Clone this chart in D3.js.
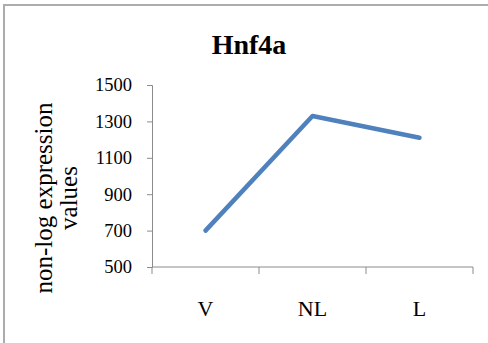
<!DOCTYPE html>
<html>
<head>
<meta charset="utf-8">
<script src="https://cdn.jsdelivr.net/npm/d3@7"></script>
<style>
  html, body { margin: 0; padding: 0; background: #fff; }
  svg { display: block; }
</style>
</head>
<body>
<svg id="chart" width="488" height="343"></svg>
<script>
// Hnf4a expression by group
const categories = ["V", "NL", "L"];
const values = [700, 1330, 1210];
const yTicks = [500, 700, 900, 1100, 1300, 1500];
const chartTitle = "Hnf4a";
const yTitleLines = ["non-log expression", "values"];

const svg = d3.select("#chart");
const W = 488, H = 343;
const plot = { left: 152, right: 473, top: 85, bottom: 267 };
const serif = "'Liberation Serif', 'Times New Roman', serif";

// chart frame (top and left edges visible)
svg.append("path")
  .attr("d", `M4,${H} V5 H${W}`)
  .attr("fill", "none")
  .attr("stroke", "#acacac")
  .attr("stroke-width", 2);

const x = d3.scaleBand().domain(categories).range([plot.left, plot.right]).padding(0);
const y = d3.scaleLinear().domain([500, 1500]).range([plot.bottom, plot.top]);

const axisColor = "#8c8c8c";

// y axis
const yAxis = svg.append("g")
  .attr("transform", `translate(${plot.left},0)`)
  .call(d3.axisLeft(y).tickValues(yTicks).tickSize(5).tickPadding(15).tickFormat(d3.format("d")));
yAxis.select(".domain").attr("stroke", axisColor);
yAxis.selectAll(".tick line").attr("stroke", axisColor);
yAxis.selectAll(".tick text")
  .attr("fill", "#000")
  .style("font-family", serif)
  .style("font-size", "18.5px");

// x axis: ticks sit on category boundaries
const xAxisG = svg.append("g")
  .attr("transform", `translate(0,${plot.bottom})`);
xAxisG.append("line")
  .attr("x1", plot.left).attr("x2", plot.right)
  .attr("stroke", axisColor);
const bounds = categories.map(c => x(c)).concat([x(categories[categories.length - 1]) + x.bandwidth()]);
xAxisG.selectAll(".xtick").data(bounds).join("line")
  .attr("class", "xtick")
  .attr("x1", d => d).attr("x2", d => d)
  .attr("y1", 0).attr("y2", 7)
  .attr("stroke", axisColor);
xAxisG.selectAll(".xlabel").data(categories).join("text")
  .attr("class", "xlabel")
  .attr("x", d => x(d) + x.bandwidth() / 2)
  .attr("y", 49)
  .attr("text-anchor", "middle")
  .style("font-family", serif)
  .style("font-size", "22px")
  .text(d => d);

// data line
const line = d3.line()
  .x((d, i) => x(categories[i]) + x.bandwidth() / 2)
  .y(d => y(d));
svg.append("path")
  .datum(values)
  .attr("d", line)
  .attr("fill", "none")
  .attr("stroke", "#4f81bd")
  .attr("stroke-width", 4.5)
  .attr("stroke-linecap", "round")
  .attr("stroke-linejoin", "round");

// title
svg.append("text")
  .attr("x", 249).attr("y", 54)
  .attr("text-anchor", "middle")
  .style("font-family", serif)
  .style("font-weight", "bold")
  .style("font-size", "28px")
  .text(chartTitle);

// y axis title, two lines
const yt = svg.append("text")
  .attr("transform", "translate(0,198) rotate(-90)")
  .attr("text-anchor", "middle")
  .style("font-family", serif)
  .style("font-size", "25px");
yTitleLines.forEach((t, i) => {
  yt.append("tspan")
    .attr("x", 0)
    .attr("y", 52 + i * 25)
    .text(t);
});
</script>
</body>
</html>
